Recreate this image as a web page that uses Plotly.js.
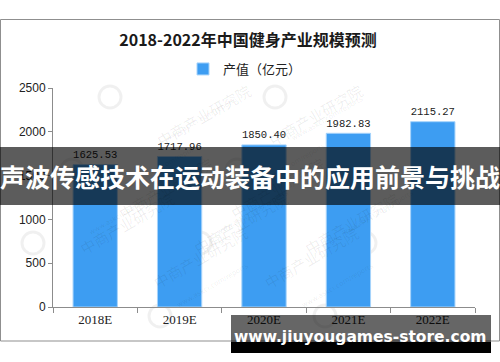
<!DOCTYPE html>
<html>
<head>
<meta charset="utf-8">
<script src="https://cdn.plot.ly/plotly-3.0.1.min.js"></script>
<style>html,body{margin:0;padding:0;background:#fff;}#chart{width:500px;height:362px;}</style>
</head>
<body>
<div id="chart"></div>
<script>
// ---- data ----
const categories = ["2018E", "2019E", "2020E", "2021E", "2022E"];
const values = [1625.53, 1717.96, 1850.40, 1982.83, 2115.27];
const seriesName = "产值（亿元）";
const chartTitle = "2018-2022年中国健身产业规模预测";
const bannerText = "声波传感技术在运动装备中的应用前景与挑战";
const footerText = "www.jiuyougames-store.com";
const yTicks = [0, 500, 1000, 1500, 2000, 2500];

// ---- layout helpers (pixel -> paper) ----
const L = 53, R = 25, T = 88, B = 55, W = 500, H = 362;
const PW = W - L - R, PH = H - T - B;
const px = x => (x - L) / PW;
const py = y => (H - B - y) / PH;

const shapes = [];
const annotations = [];

// faint watermarks
const wmRows = [
  {y: 97, xs: [110, 275]},
  {y: 170, xs: [72, 237]},
  {y: 243, xs: [33, 200, 365]},
  {y: 316, xs: [160, 325]}
];
wmRows.forEach(r => r.xs.forEach(x => {
  shapes.push({type: 'circle', xref: 'paper', yref: 'paper', layer: 'below',
    x0: px(x - 11), x1: px(x + 11), y0: py(r.y + 11), y1: py(r.y - 11),
    line: {color: 'rgba(0,0,0,0.06)', width: 3}, fillcolor: 'rgba(0,0,0,0)'});
  annotations.push({xref: 'paper', yref: 'paper', x: px(x + 40), y: py(r.y - 20),
    text: '中商产业研究院', showarrow: false, textangle: -30,
    font: {family: 'Noto Sans CJK SC', size: 15, color: 'rgba(0,0,0,0.07)'}});
  annotations.push({xref: 'paper', yref: 'paper', x: px(x + 52), y: py(r.y - 4),
    text: 'www.askci.com/reports', showarrow: false, textangle: -30,
    font: {family: 'DejaVu Sans', size: 7, color: 'rgba(0,0,0,0.08)'}});
}));

// outer border
shapes.push({type: 'rect', xref: 'paper', yref: 'paper', layer: 'above',
  x0: px(0.5), x1: px(499.5), y0: py(341), y1: py(19.5),
  line: {color: '#8f8f8f', width: 1}, fillcolor: 'rgba(0,0,0,0)'});

// middle banner
shapes.push({type: 'rect', xref: 'paper', yref: 'paper', layer: 'above',
  x0: px(0), x1: px(500), y0: py(205), y1: py(147),
  line: {width: 0}, fillcolor: 'rgba(0,0,0,0.64)'});
annotations.push({xref: 'paper', yref: 'paper', x: px(250), y: py(176),
  xanchor: 'center', yanchor: 'middle', text: '<b>' + bannerText + '</b>', showarrow: false,
  font: {family: 'Noto Sans CJK SC', size: 25, color: '#ffffff'}});

// footer banner
shapes.push({type: 'rect', xref: 'paper', yref: 'paper', layer: 'above',
  x0: px(231), x1: px(491), y0: py(342), y1: py(315),
  line: {width: 0}, fillcolor: 'rgba(0,0,0,0.6)'});
shapes.push({type: 'rect', xref: 'paper', yref: 'paper', layer: 'above',
  x0: px(231), x1: px(491), y0: py(353), y1: py(342),
  line: {width: 0}, fillcolor: '#000000'});
annotations.push({xref: 'paper', yref: 'paper', x: px(360), y: py(337),
  xanchor: 'center', yanchor: 'middle', text: '<b>' + footerText + '</b>', showarrow: false,
  font: {family: 'DejaVu Sans', size: 15.5, color: '#ffffff'}});

const trace = {
  type: 'bar', x: categories, y: values, name: seriesName,
  marker: {color: '#3d9df2', line: {color: '#a6d3fb', width: 1}},
  text: values.map(v => v.toFixed(2)), textposition: 'outside', cliponaxis: false,
  textfont: {family: 'Liberation Mono', size: 12, color: '#222'},
  hoverinfo: 'none'
};

const layout = {
  width: W, height: H,
  margin: {l: L, r: R, t: T, b: B, pad: 0},
  paper_bgcolor: '#ffffff', plot_bgcolor: '#ffffff',
  title: {text: '<b>' + chartTitle + '</b>', xref: 'container', yref: 'container',
    x: 0.496, xanchor: 'center', y: 1 - 40 / H, yanchor: 'middle',
    font: {family: 'Noto Sans CJK SC', size: 16, color: '#1a1a1a'}},
  showlegend: true,
  legend: {orientation: 'h', x: px(245), xanchor: 'center', y: py(69), yanchor: 'middle',
    itemwidth: 30, font: {family: 'Noto Sans CJK SC', size: 13, color: '#222'}, itemclick: false},
  bargap: 0.475,
  xaxis: {type: 'category', showline: true, linecolor: '#8c8c8c', linewidth: 1,
    ticks: 'outside', tickson: 'boundaries', ticklen: 5, tickcolor: '#8c8c8c',
    tickfont: {family: 'Liberation Serif', size: 13, color: '#222'}, showgrid: false, fixedrange: true},
  yaxis: {range: [0, 2500], tickvals: yTicks, showline: true, linecolor: '#8c8c8c', linewidth: 1,
    ticks: 'outside', ticklen: 4, tickcolor: '#8c8c8c', showgrid: false, zeroline: false,
    tickfont: {family: 'Liberation Sans', size: 12, color: '#222'}, fixedrange: true},
  shapes: shapes,
  annotations: annotations
};

Plotly.newPlot('chart', [trace], layout, {displayModeBar: false, staticPlot: true});
</script>
</body>
</html>
